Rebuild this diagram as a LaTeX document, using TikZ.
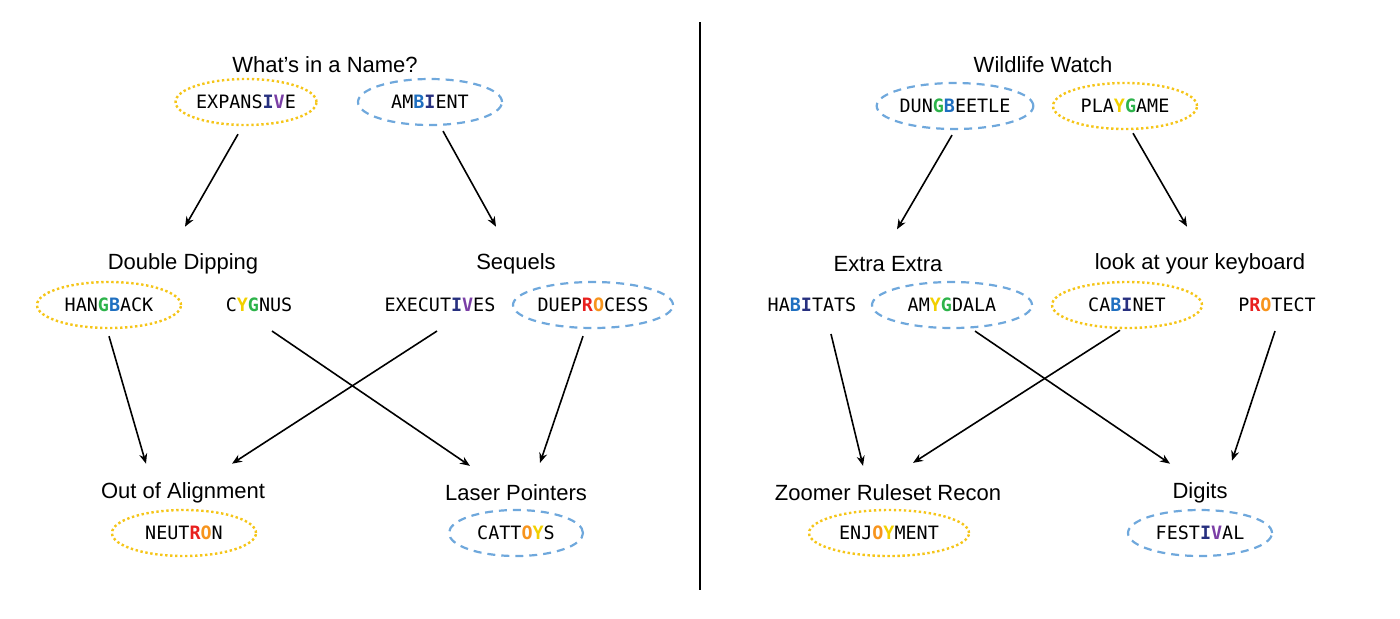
\documentclass[tikz,border=0pt]{standalone}
\usepackage{fontspec}
\usetikzlibrary{shapes.geometric,arrows.meta}
\setmainfont{Liberation Sans}
\newfontfamily\wmono{DejaVu Sans Mono}
\definecolor{cG}{HTML}{2DB34A}
\definecolor{cB}{HTML}{1F6FC0}
\definecolor{cI}{HTML}{27307F}
\definecolor{cV}{HTML}{7B3FA6}
\definecolor{cR}{HTML}{E8201E}
\definecolor{cO}{HTML}{F7941D}
\definecolor{cY}{HTML}{F2D000}
\definecolor{dotY}{HTML}{F5C518}
\definecolor{dashB}{HTML}{6FA8DC}
\newcommand\cl[2]{\textcolor{#1}{\textbf{#2}}}
\begin{document}
\begin{tikzpicture}[x=0.5pt,y=-0.5pt,
  ttl/.style={font=\fontsize{11}{13}\selectfont},
  wrd/.style={font=\wmono\fontsize{9.2}{11}\selectfont},
  ydot/.style={wrd,ellipse,draw=dotY,line width=1.2pt,dash pattern=on 1.2pt off 1.3pt,minimum height=23pt},
  bdash/.style={wrd,ellipse,draw=dashB,line width=1.1pt,dash pattern=on 4pt off 3pt,minimum height=23pt},
  arr/.style={-{Stealth[length=5pt,width=4pt]},line width=0.8pt}]
\path[use as bounding box] (0,0) rectangle (1400,618);
\draw[line width=0.8pt] (700,22) -- (700,590);
% Left
\node[ttl] (t1) at (325,65) {What’s in a Name?};
\node[ydot,minimum width=65pt,inner sep=0pt] (expansive) at (246,102) {EXPANS\cl{cI}{I}\cl{cV}{V}E};
\node[bdash,minimum width=72pt,inner sep=0pt] (ambient) at (430,102) {AM\cl{cB}{B}\cl{cI}{I}ENT};
\node[ttl] (dd) at (183,264) {Double Dipping};
\node[ttl] (sq) at (516,264) {Sequels};
\node[ydot,minimum width=72pt,inner sep=0pt] (hangback) at (109,305) {HAN\cl{cG}{G}\cl{cB}{B}ACK};
\node[wrd] (cygnus) at (259,305) {C\cl{cY}{Y}\cl{cG}{G}NUS};
\node[wrd] (executives) at (440,305) {EXECUT\cl{cI}{I}\cl{cV}{V}ES};
\node[bdash,minimum width=80pt,inner sep=0pt] (dueprocess) at (593,305) {DUEP\cl{cR}{R}\cl{cO}{O}CESS};
\node[ttl] (oa) at (183,493) {Out of Alignment};
\node[ttl] (lp) at (516,493) {Laser Pointers};
\node[ydot,minimum width=72pt,inner sep=0pt] (neutron) at (184,533) {NEUT\cl{cR}{R}\cl{cO}{O}N};
\node[bdash,minimum width=67pt,inner sep=0pt] (cattoys) at (516,533) {CATT\cl{cO}{O}\cl{cY}{Y}S};
\draw[arr] ([shift={(-8,8)}]expansive.south) -- ([shift={(2,-20)}]dd.north);
\draw[arr] ([shift={(13,5)}]ambient.south) -- ([shift={(-20,-20)}]sq.north);
\draw[arr] ([shift={(0,7)}]hangback.south) -- ([shift={(-37,-12)}]oa.north);
\draw[arr] ([shift={(13,12)}]cygnus.south) -- ([shift={(-46,-12)}]lp.north);
\draw[arr] ([shift={(-3,12)}]executives.south) -- ([shift={(49,-12)}]oa.north);
\draw[arr] ([shift={(-10,7)}]dueprocess.south) -- ([shift={(24,-15)}]lp.north);
% Right
\node[ttl] (t2) at (1043,65) {Wildlife Watch};
\node[bdash,minimum width=75pt,inner sep=0pt] (dung) at (955,106) {DUN\cl{cG}{G}\cl{cB}{B}EETLE};
\node[ydot,minimum width=72pt,inner sep=0pt] (playgame) at (1125,106) {PLA\cl{cY}{Y}\cl{cG}{G}AME};
\node[ttl] (ee) at (888,264) {Extra Extra};
\node[ttl] (kb) at (1200,264) {look at your keyboard};
\node[wrd] (habitats) at (812,305) {HA\cl{cB}{B}\cl{cI}{I}TATS};
\node[bdash,minimum width=80pt,inner sep=0pt] (amygdala) at (952,305) {AM\cl{cY}{Y}\cl{cG}{G}DALA};
\node[ydot,minimum width=75pt,inner sep=0pt] (cabinet) at (1127,305) {CA\cl{cB}{B}\cl{cI}{I}NET};
\node[wrd] (protect) at (1277,305) {P\cl{cR}{R}\cl{cO}{O}TECT};
\node[ttl] (zr) at (888,493) {Zoomer Ruleset Recon};
\node[ttl] (dg) at (1200,493) {Digits};
\node[ydot,minimum width=80pt,inner sep=0pt] (enjoyment) at (889,533) {ENJ\cl{cO}{O}\cl{cY}{Y}MENT};
\node[bdash,minimum width=72pt,inner sep=0pt] (festival) at (1200,533) {FEST\cl{cI}{I}\cl{cV}{V}AL};
\draw[arr] ([shift={(-3,5)}]dung.south) -- ([shift={(9,-20)}]ee.north);
\draw[arr] ([shift={(8,3)}]playgame.south) -- ([shift={(-13,-20)}]kb.north);
\draw[arr] ([shift={(19,15)}]habitats.south) -- ([shift={(-25,-12)}]zr.north);
\draw[arr] ([shift={(23,2)}]amygdala.south) -- ([shift={(-30,-12)}]dg.north);
\draw[arr] ([shift={(-7,1)}]cabinet.south) -- ([shift={(25,-15)}]zr.north);
\draw[arr] ([shift={(-2,12)}]protect.south) -- ([shift={(32,-15)}]dg.north);
\end{tikzpicture}
\end{document}
